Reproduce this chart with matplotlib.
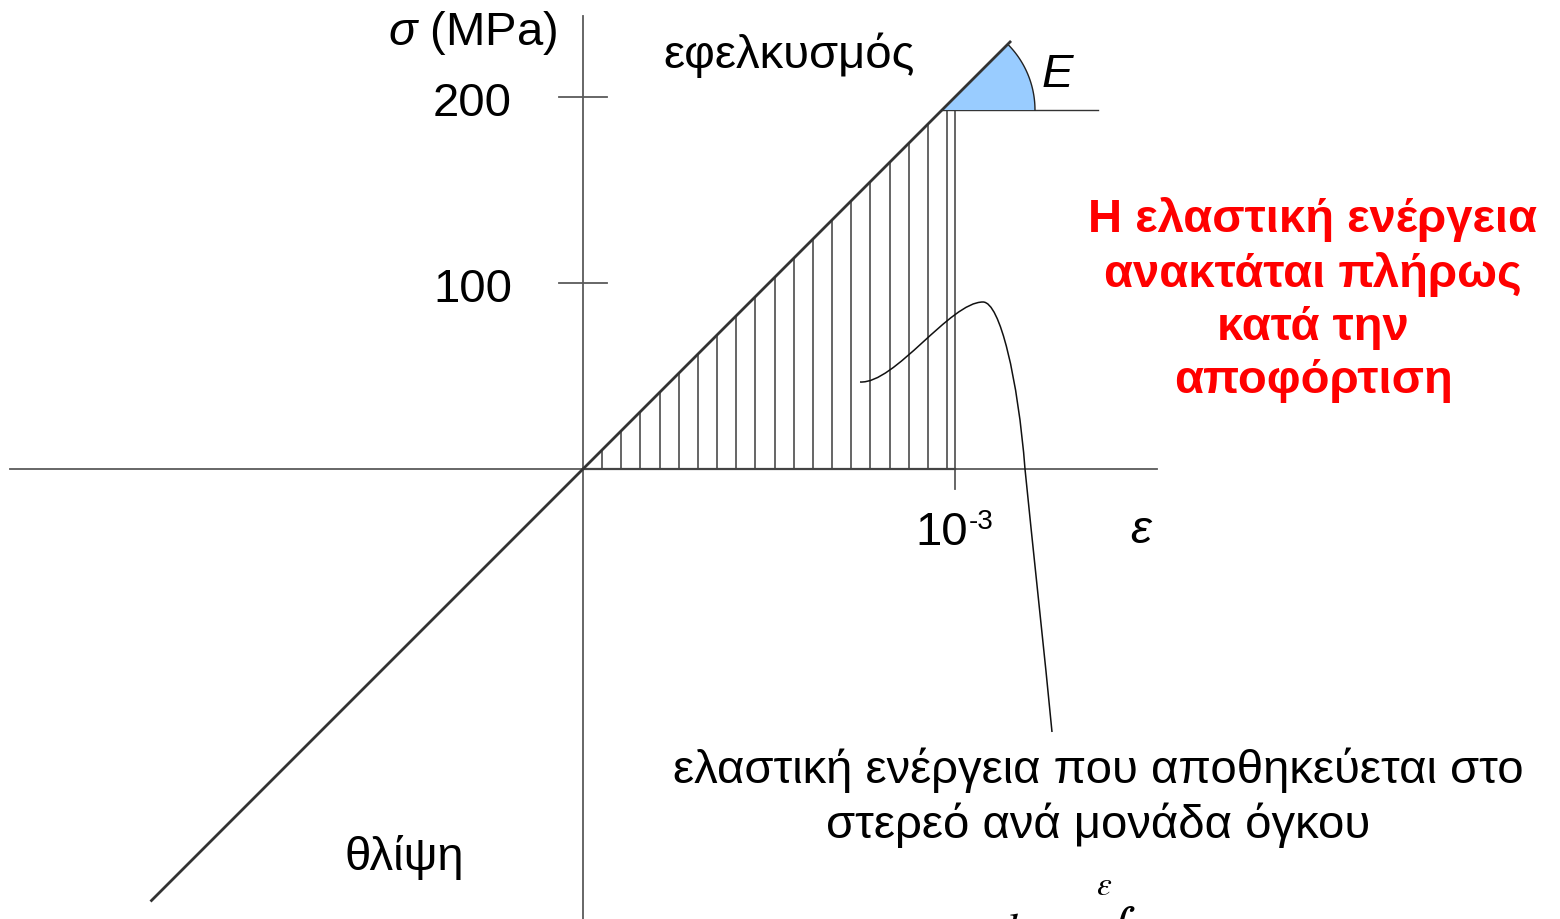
import numpy as np
import matplotlib
matplotlib.use("Agg")
import matplotlib.pyplot as plt
from matplotlib.path import Path
from matplotlib.patches import PathPatch, Polygon

plt.rcParams["mathtext.fontset"] = "custom"
plt.rcParams["mathtext.rm"] = "Liberation Sans"
plt.rcParams["mathtext.it"] = "Liberation Sans:italic"
plt.rcParams["font.family"] = ["Liberation Sans", "DejaVu Sans"]

# Linear-elastic stress-strain law (strain in units of 1e-3, stress in MPa)
E_mod = 200.0            # MPa per 1e-3 strain  (200 GPa)
sigma_cap = 193.0        # stress level of the horizontal reference line
eps_end = 1.0            # strain where the stored-energy region ends (10^-3)
eps_line = [-1.16, 1.148]  # extent of the drawn stress-strain line
y_ticks = [100, 200]
y_tick_labels = ["100", "200"]
x_tick = 1.0
x_tick_base, x_tick_exp = "10", "-3"

# pixel-like scaling of the sheet
PX_X = 372.0   # px per unit strain
PX_Y = 1.86    # px per MPa
W, H = 1560, 920
X0, Y0 = 583, 470  # origin location on the sheet

fig = plt.figure(figsize=(W / 100, H / 100), dpi=100)
ax = fig.add_axes([0, 0, 1, 1])
ax.set_xlim(-X0 / PX_X, (W - X0) / PX_X)
ax.set_ylim(-(H - Y0) / PX_Y, Y0 / PX_Y)
ax.axis("off")


def to_d(px, py):
    return ((px - X0) / PX_X, (Y0 - py) / PX_Y)


FS = 34
axis_col = "#5a5a5a"
# coordinate axes
ax.plot([-(X0 - 10) / PX_X, (1157 - X0) / PX_X], [0, 0], color=axis_col, lw=1.3, zorder=2)
ax.plot([0, 0], [-(H - Y0) / PX_Y - 5, (Y0 - 17) / PX_Y], color=axis_col, lw=1.3, zorder=2)
for t in y_ticks:
    ax.plot([-24 / PX_X, 24 / PX_X], [t, t], color=axis_col, lw=1.3)
for t, lab in zip(y_ticks, y_tick_labels):
    ax.text(-71 / PX_X, t - 3, lab, ha="right", va="center", fontsize=FS)
# strain tick
ax.plot([x_tick, x_tick], [0, -20 / PX_Y], color=axis_col, lw=1.3)
ax.text(x_tick + 13 / PX_X, -63 / PX_Y, x_tick_base, ha="right", va="center", fontsize=FS)
ax.text(x_tick + 14 / PX_X, -52 / PX_Y, x_tick_exp, ha="left", va="center", fontsize=20)

# hatched stored-energy region under the line, capped at sigma_cap
def sigma_of(e):
    return np.minimum(E_mod * np.asarray(e), sigma_cap)

hatch_eps = np.arange(1, 20) * 0.0515
for e in hatch_eps:
    ax.plot([e, e], [0, sigma_of(e)], color="#3c3c3c", lw=1.1, zorder=2)
ax.plot([eps_end, eps_end], [0, sigma_cap], color="#3c3c3c", lw=1.1, zorder=2)
ax.plot([0, eps_end], [0, 0], color="#444444", lw=1.6, zorder=2)

# reference horizontal line at sigma_cap
eps_cap = sigma_cap / E_mod
ax.plot([eps_cap, (1098 - X0) / PX_X], [sigma_cap, sigma_cap], color="#333333",
        lw=1.0, zorder=3)

# modulus wedge (circular on the sheet)
ang = np.arctan(E_mod * PX_Y / PX_X)
r_px = 93.0
th = np.linspace(0, ang, 60)
wx = eps_cap + r_px * np.cos(th) / PX_X
wy = sigma_cap + r_px * np.sin(th) / PX_Y
wedge = Polygon(np.column_stack([np.r_[eps_cap, wx], np.r_[sigma_cap, wy]]),
                closed=True, facecolor="#99ccff", edgecolor="none", zorder=3)
ax.add_patch(wedge)
ax.plot(wx, wy, color="#222222", lw=1.0, zorder=4)
ax.text(*to_d(1057, 75), "E", ha="center", va="center", fontsize=FS, style="italic")

# stress-strain line (tension and compression)
e_l = np.array(eps_line)
ax.plot(e_l, E_mod * e_l, color="#333333", lw=2.0, zorder=4)

# leader from the hatched region to the explanation
leader_px = [(860, 383), (895, 385), (950, 303), (983, 303),
             (1000, 303), (1018, 380), (1025, 470),
             (1032, 540), (1045, 660), (1052, 733)]
verts = [to_d(*p) for p in leader_px]
codes = [Path.MOVETO] + [Path.CURVE4] * 9
ax.add_patch(PathPatch(Path(verts, codes), facecolor="none", edgecolor="#111111",
                       lw=1.1, zorder=4))

# labels
ax.text(*to_d(473, 33), r"$\mathit{σ}$ (MPa)", ha="center", va="center", fontsize=FS)
ax.text(*to_d(789, 55), "εφελκυσμός", ha="center", va="center", fontsize=FS)
ax.text(*to_d(1141, 531), "ε", ha="center", va="center", fontsize=FS, style="italic")
ax.text(*to_d(404, 858), "θλίψη", ha="center", va="center", fontsize=FS)
ax.text(*to_d(1098, 798), "ελαστική ενέργεια που αποθηκεύεται στο\nστερεό ανά μονάδα όγκου",
        ha="center", va="center", fontsize=FS, linespacing=1.27)
ax.text(*to_d(1313, 300),
        "Η ελαστική ενέργεια\nανακτάται πλήρως\nκατά την\nαποφόρτιση",
        ha="center", va="center", fontsize=FS, fontweight="bold", color="#ff0000",
        linespacing=1.27)

# energy density formula at the bottom edge (runs past the sheet)
ax.text(*to_d(992, 912), r"$dw=$", ha="left", va="top", fontsize=34,
        math_fontfamily="stix")
ax.text(*to_d(1098, 904), r"$\int$", ha="left", va="top", fontsize=40,
        math_fontfamily="stix")
ax.text(*to_d(1104, 887), r"$\varepsilon$", ha="center", va="center", fontsize=24,
        math_fontfamily="stix")

fig.savefig("out.png", dpi=100)
